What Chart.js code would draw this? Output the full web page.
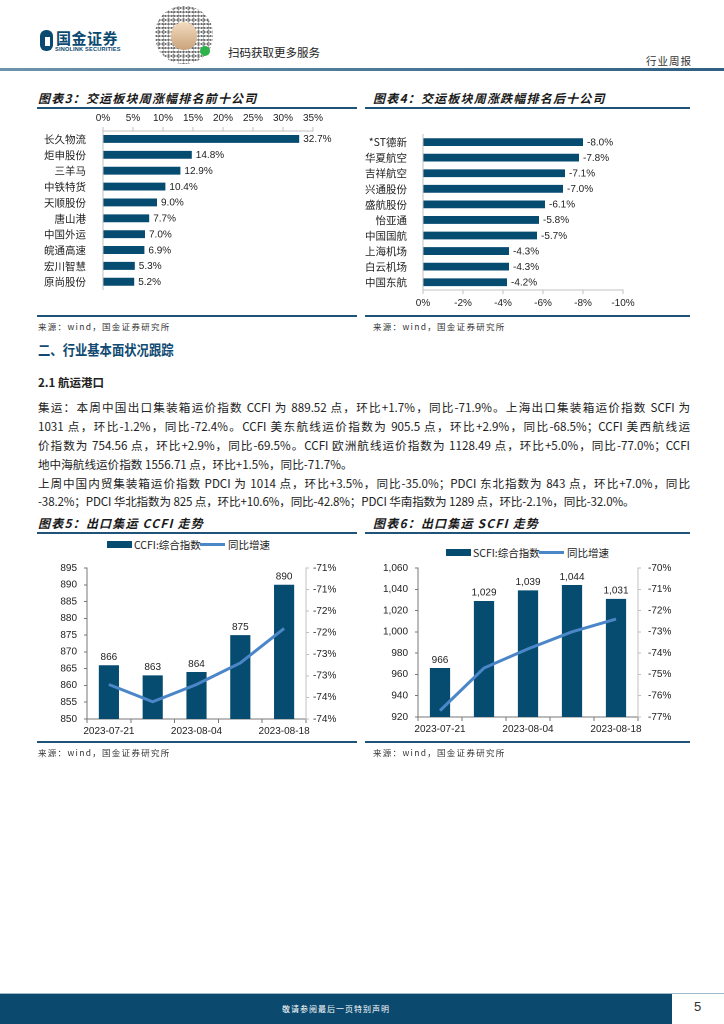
<!DOCTYPE html>
<html><head><meta charset="utf-8">
<script src="https://cdn.jsdelivr.net/npm/chart.js@4.4.0/dist/chart.umd.min.js"></script>
<style>
html,body{margin:0;padding:0;background:#fff;}
body{width:724px;height:1024px;position:relative;overflow:hidden;font-family:"Noto Sans CJK SC","Liberation Sans",sans-serif;color:#222;}
.abs{position:absolute;}
.ctitle{font-size:12px;font-weight:bold;font-style:italic;letter-spacing:1.2px;color:#1a1a1a;white-space:nowrap;}
.rule{height:2px;background:#1f5478;}
.src{font-size:8.5px;letter-spacing:1.3px;color:#333;white-space:nowrap;}
.para{left:38px;width:652px;font-size:11.6px;line-height:19px;white-space:nowrap;color:#222;}
.j{text-align:justify;text-align-last:justify;}
.leg{font-size:10.5px;color:#222;white-space:nowrap;font-family:"Noto Sans CJK SC",sans-serif;}
canvas{position:absolute;}
</style></head><body>

<!-- header -->
<div class="abs" style="left:40px;top:30px;width:13px;height:21px;border-radius:6px;background:#0b4a70;"></div>
<div class="abs" style="left:45px;top:37px;width:5px;height:9px;background:#fff;"></div>
<div class="abs" style="left:56px;top:27px;font-size:15px;font-weight:bold;color:#0b4a70;letter-spacing:0.5px;">国金证券</div>
<div class="abs" style="left:55px;top:46px;font-size:5.6px;font-weight:bold;color:#0b4a70;font-family:'Liberation Sans';letter-spacing:0.2px;">SINOLINK SECURITIES</div>
<div class="abs" style="left:155px;top:6px;width:58px;height:58px;border-radius:28px;background:radial-gradient(circle,#555 0 0.9px,transparent 1.3px) 0 0/3px 4px,radial-gradient(circle,#777 0 0.8px,transparent 1.2px) 1px 2px/5px 3px;opacity:0.85;"></div>
<div class="abs" style="left:171px;top:22px;width:26px;height:28px;border-radius:13px;background:linear-gradient(#f3dcc0,#c9a27a);"></div>
<div class="abs" style="left:200px;top:46px;width:10px;height:10px;border-radius:5px;background:#2db34a;"></div>
<div class="abs" style="left:228px;top:44px;font-size:11.5px;color:#222;">扫码获取更多服务</div>
<div class="abs" style="left:646px;top:53px;font-size:10.5px;color:#333;letter-spacing:1px;">行业周报</div>
<div class="abs" style="left:0;top:68px;width:724px;height:3px;background:linear-gradient(90deg,#6e93ad,#2f5f82);"></div>

<!-- chart 3 / 4 titles -->
<div class="abs ctitle" style="left:38px;top:89px;">图表3：交运板块周涨幅排名前十公司</div>
<div class="abs rule" style="left:37px;top:107px;width:320px;"></div>
<div class="abs ctitle" style="left:373px;top:89px;">图表4：交运板块周涨跌幅排名后十公司</div>
<div class="abs rule" style="left:365px;top:107px;width:325px;"></div>
<canvas id="c3" width="330" height="195" style="left:30px;top:110px;"></canvas>
<canvas id="c4" width="330" height="195" style="left:365px;top:120px;"></canvas>
<div class="abs" style="left:37px;top:315px;width:320px;height:1.5px;background:#1f5478;"></div>
<div class="abs src" style="left:38px;top:320px;">来源：wind，国金证券研究所</div>
<div class="abs" style="left:365px;top:315px;width:325px;height:1.5px;background:#1f5478;"></div>
<div class="abs src" style="left:373px;top:320px;">来源：wind，国金证券研究所</div>

<!-- section text -->
<div class="abs" style="left:38px;top:339px;font-size:14px;font-weight:bold;color:#0f4a72;transform:scaleX(0.88);transform-origin:left;white-space:nowrap;">二、行业基本面状况跟踪</div>
<div class="abs" style="left:38px;top:374px;font-size:11.5px;font-weight:bold;color:#222;white-space:nowrap;">2.1 航运港口</div>
<div class="abs para j" style="top:398px;">集运：本周中国出口集装箱运价指数 CCFI 为 889.52 点，环比+1.7%，同比-71.9%。上海出口集装箱运价指数 SCFI 为</div>
<div class="abs para j" style="top:417px;">1031 点，环比-1.2%，同比-72.4%。CCFI 美东航线运价指数为 905.5 点，环比+2.9%，同比-68.5%；CCFI 美西航线运</div>
<div class="abs para j" style="top:436px;">价指数为 754.56 点，环比+2.9%，同比-69.5%。CCFI 欧洲航线运价指数为 1128.49 点，环比+5.0%，同比-77.0%；CCFI</div>
<div class="abs para" style="top:455px;">地中海航线运价指数 1556.71 点，环比+1.5%，同比-71.7%。</div>
<div class="abs para j" style="top:474px;">上周中国内贸集装箱运价指数 PDCI 为 1014 点，环比+3.5%，同比-35.0%；PDCI 东北指数为 843 点，环比+7.0%，同比</div>
<div class="abs para" style="top:492px;letter-spacing:-0.15px;">-38.2%；PDCI 华北指数为 825 点，环比+10.6%，同比-42.8%；PDCI 华南指数为 1289 点，环比-2.1%，同比-32.0%。</div>

<!-- chart 5 / 6 -->
<div class="abs ctitle" style="left:38px;top:514px;">图表5：出口集运 CCFI 走势</div>
<div class="abs rule" style="left:37px;top:532px;width:320px;"></div>
<div class="abs ctitle" style="left:373px;top:514px;">图表6：出口集运 SCFI 走势</div>
<div class="abs rule" style="left:365px;top:532px;width:325px;"></div>

<div class="abs" style="left:107px;top:541px;width:25px;height:7px;background:#064b70;"></div>
<div class="abs leg" style="left:134px;top:537px;">CCFI:综合指数</div>
<div class="abs" style="left:200px;top:543px;width:25px;height:3px;background:#4a86c8;"></div>
<div class="abs leg" style="left:228px;top:537px;">同比增速</div>

<div class="abs" style="left:446px;top:549px;width:25px;height:7px;background:#064b70;"></div>
<div class="abs leg" style="left:473px;top:545px;">SCFI:综合指数</div>
<div class="abs" style="left:539px;top:551px;width:25px;height:3px;background:#4a86c8;"></div>
<div class="abs leg" style="left:567px;top:545px;">同比增速</div>

<canvas id="c5" width="330" height="190" style="left:30px;top:555px;"></canvas>
<canvas id="c6" width="330" height="190" style="left:365px;top:555px;"></canvas>
<div class="abs" style="left:37px;top:741px;width:320px;height:1.5px;background:#1f5478;"></div>
<div class="abs src" style="left:38px;top:746px;">来源：wind，国金证券研究所</div>
<div class="abs" style="left:365px;top:741px;width:325px;height:1.5px;background:#1f5478;"></div>
<div class="abs src" style="left:373px;top:746px;">来源：wind，国金证券研究所</div>

<!-- footer -->
<div class="abs" style="left:0;top:993px;width:724px;height:1px;background:#9fb9cc;"></div>
<div class="abs" style="left:0;top:994px;width:672px;height:30px;background:#0b4a6e;"></div>
<div class="abs" style="left:0;top:1003px;width:672px;text-align:center;font-size:8px;color:#fff;letter-spacing:1px;">敬请参阅最后一页特别声明</div>
<div class="abs" style="left:694px;top:999px;font-size:13px;color:#333;font-family:'Liberation Sans';">5</div>

<script>
// ---------------- data ----------------
const top10Names = ['长久物流','炬申股份','三羊马','中铁特货','天顺股份','唐山港','中国外运','皖通高速','宏川智慧','原尚股份'];
const top10Values = [32.7, 14.8, 12.9, 10.4, 9.0, 7.7, 7.0, 6.9, 5.3, 5.2];
const bottom10Names = ['*ST德新','华夏航空','吉祥航空','兴通股份','盛航股份','怡亚通','中国国航','上海机场','白云机场','中国东航'];
const bottom10Values = [-8.0, -7.8, -7.1, -7.0, -6.1, -5.8, -5.7, -4.3, -4.3, -4.2];
const weekDates = ['2023-07-21','2023-07-28','2023-08-04','2023-08-11','2023-08-18'];
const ccfiIndex = [866, 863, 864, 875, 890];
const ccfiYoY = [-73.2, -73.6, -73.2, -72.7, -71.9];
const scfiIndex = [966, 1029, 1039, 1044, 1031];
const scfiYoY = [-76.7, -74.7, -73.8, -73.0, -72.4];

const BAR = '#064b70', LINE = '#4a86c8', AX = '#777', AXL = '#c0c0c0';
const tickFont = {family:'"Liberation Sans", Arial, sans-serif', size:10};
const cjkFont = {family:'"Noto Sans CJK SC", sans-serif', size:10.5};
Chart.defaults.color = '#222';

const valueLabels = {
  id:'valueLabels',
  afterDatasetsDraw(chart, args, opts){
    const ctx = chart.ctx;
    chart.data.datasets.forEach((ds, di) => {
      if (ds.type === 'line') return;
      const meta = chart.getDatasetMeta(di);
      meta.data.forEach((el, i) => {
        ctx.save();
        ctx.font = '10px "Liberation Sans", Arial, sans-serif';
        ctx.fillStyle = '#222';
        if (opts.mode === 'h') {
          ctx.textAlign = 'left'; ctx.textBaseline = 'middle';
          ctx.fillText(opts.fmt(ds.data[i]), el.x + 4, el.y + 0.5);
        } else {
          ctx.textAlign = 'center'; ctx.textBaseline = 'bottom';
          ctx.fillText(opts.fmt(ds.data[i]), el.x, el.y - 3);
        }
        ctx.restore();
      });
    });
  }
};

function hbar(id, names, values, opts) {
  return new Chart(document.getElementById(id), {
    type:'bar',
    data:{labels:names, datasets:[{data:values, backgroundColor:BAR, categoryPercentage:1, barPercentage:0.5}]},
    options:{
      indexAxis:'y', responsive:false, animation:false, devicePixelRatio:2,
      layout:{padding:opts.padding},
      plugins:{legend:{display:false}, tooltip:{enabled:false},
        valueLabels:{mode:'h', fmt:v => v.toFixed(1)+'%'}},
      scales:{
        x:{position:opts.xpos, min:opts.min, max:opts.max, reverse:opts.reverse,
           ticks:{stepSize:opts.step, font:tickFont, color:'#222', padding:3, callback:v => v + '%'},
           grid:{drawOnChartArea:false, tickLength:4, color:AXL},
           border:{color:AXL},
           afterFit:s => { s.height = opts.xh; }},
        y:{ticks:{font:cjkFont, color:'#222', padding:opts.ypad, autoSkip:false},
           grid:{display:false},
           border:{display:true, color:AXL},
           afterFit:s => { s.width = opts.yw; }}
      }
    },
    plugins:[valueLabels]
  });
}

hbar('c3', top10Names, top10Values, {padding:{top:0,right:47,bottom:10,left:0}, xpos:'top', min:0, max:35, step:5, reverse:false, xh:21, yw:73, ypad:9});
hbar('c4', bottom10Names, bottom10Values, {padding:{top:9,right:72,bottom:0,left:0}, xpos:'bottom', min:-10, max:0, step:2, reverse:true, xh:25, yw:58, ypad:8});

function combo(id, labels, bars, yoy, o) {
  return new Chart(document.getElementById(id), {
    data:{labels:labels, datasets:[
      {type:'line', data:yoy, yAxisID:'y2', borderColor:LINE, borderWidth:3, pointRadius:0, tension:0, order:0},
      {type:'bar', data:bars, yAxisID:'y', backgroundColor:BAR, categoryPercentage:1, barPercentage:0.46, order:1}
    ]},
    options:{
      responsive:false, animation:false, devicePixelRatio:2,
      layout:{padding:{top:o.top, right:0, bottom:0, left:0}},
      plugins:{legend:{display:false}, tooltip:{enabled:false},
        valueLabels:{mode:'v', fmt:o.fmt}},
      scales:{
        x:{ticks:{font:tickFont, color:'#222', autoSkip:false, maxRotation:0, padding:2,
               callback:(v,i) => i % 2 === 0 ? labels[i] : ''},
           grid:{drawOnChartArea:false, offset:true, tickLength:4, color:AX},
           border:{color:AX},
           afterFit:s => { s.height = o.xh; }},
        y:{position:'left', min:o.ymin, max:o.ymax,
           ticks:{stepSize:o.ystep, font:tickFont, color:'#222', padding:7, callback:o.yfmt},
           grid:{drawOnChartArea:false, tickLength:3, color:AX},
           border:{color:AX},
           afterFit:s => { s.width = o.yw; }},
        y2:{position:'right', min:o.rmin, max:o.rmax,
           ticks:{stepSize:o.rstep, font:tickFont, color:'#222', padding:o.rpad, callback:v => v.toFixed(0) + '%'},
           grid:{drawOnChartArea:false, tickLength:3, color:AXL},
           border:{color:AXL},
           afterFit:s => { s.width = o.rw; }}
      }
    },
    plugins:[valueLabels]
  });
}

combo('c5', weekDates, ccfiIndex, ccfiYoY, {top:10, xh:26, ymin:850, ymax:895, ystep:5, yw:57,
  yfmt:v => v, rmin:-74, rmax:-70.5, rstep:0.5, rw:54, rpad:4, fmt:v => String(v)});
combo('c6', weekDates, scfiIndex, scfiYoY, {top:11, xh:28, ymin:920, ymax:1060, ystep:20, yw:53,
  yfmt:v => v.toLocaleString('en-US'), rmin:-77, rmax:-70, rstep:1, rw:57, rpad:7, fmt:v => v.toLocaleString('en-US')});
</script>
</body></html>
